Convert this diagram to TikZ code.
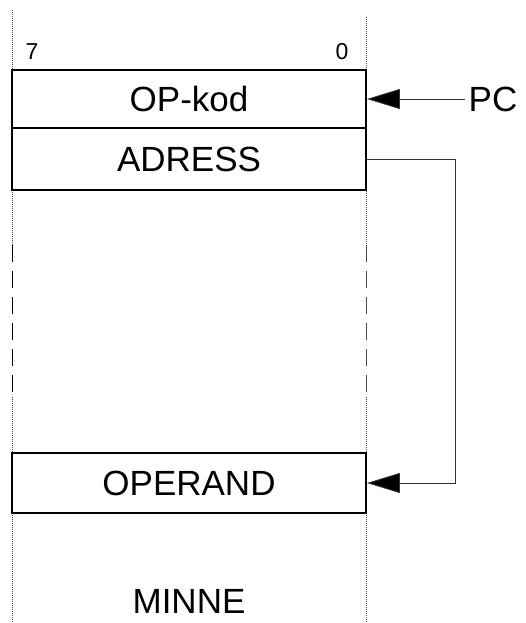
\documentclass[tikz,border=0pt]{standalone}
\usepackage{fontspec}
\setmainfont{Liberation Sans}
\usetikzlibrary{arrows.meta}
\begin{document}
\begin{tikzpicture}[x=1pt,y=-1pt,
    cell/.style ={draw, line width=1.8pt, minimum width=354pt, inner sep=0pt,
                  font=\fontsize{35}{40}\selectfont},
    bitnr/.style ={font=\fontsize{23}{26}\selectfont},
    label/.style ={font=\fontsize{35}{40}\selectfont},
    edge/.style ={gray!60!black, line width=0.4pt, dash pattern=on 1pt off 1pt},
    pointer/.style ={line width=0.9pt, draw=gray!40!black,
                     -{Triangle[length=33pt,width=20pt,fill=black]}}]
   \useasboundingbox (0,0) rectangle (525,623);
   % memory edges
   \draw[edge] (12,10) -- (12,245);
   \draw[edge, black, dash pattern=on 17pt off 9pt, line width=1pt] (12,245) -- (12,397);
   \draw[edge] (12,397) -- (12,623);
   \draw[edge] (366,17) -- (366,245);
   \draw[edge, dash pattern=on 17pt off 9pt, line width=1pt] (366,245) -- (366,397);
   \draw[edge] (366,397) -- (366,623);

   \node[bitnr] (B7) at (32,52) {7};
   \node[bitnr] (B0) at (342,52) {0};

   \node[cell, minimum height=58pt] (OP) at (189,99) {OP-kod};
   \node[cell, minimum height=62pt] (ADR) at (189,159) {ADRESS};
   \node[cell, minimum height=60pt] (OPD) at (189,483) {OPERAND};

   \node[label] (PC) at (493,99) {PC};
   \node[label] (MINNE) at (189,601) {MINNE};

   \coordinate (turn) at (455,159);
   \draw[pointer] (PC) to (OP.east);
   \draw[pointer] (ADR.east) -- (turn) |- (OPD.east);
 \end{tikzpicture}
\end{document}
